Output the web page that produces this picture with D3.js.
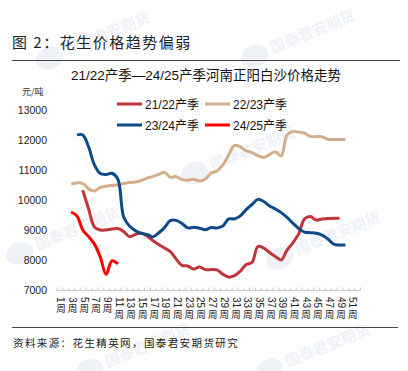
<!DOCTYPE html>
<html lang="zh">
<head>
<meta charset="UTF-8">
<script src="https://cdn.jsdelivr.net/npm/d3@7"></script>
<title>花生价格趋势</title>
<style>
  body { margin: 0; background: #fff; }
  text { font-family: "Liberation Sans", Arial, "Noto Sans CJK SC", sans-serif; }
  .cjk { font-family: "Noto Sans CJK SC", sans-serif; }
</style>
</head>
<body>
<div id="chart"></div>
<script>
// 周（横轴类别）
const weeks = d3.range(1, 53);
const weekLabels = weeks.filter(w => w % 2 == 1).map(w => w + "周");
const yTicks = [7000, 8000, 9000, 10000, 11000, 12000, 13000];

// 各产季数据，从起始周开始
const s2122Start = 5;
const s2122 = [10330, 9700, 9100, 9000, 9000, 9030, 9050, 8950, 8780, 8850, 8900, 8800, 8650, 8520,
  8400, 8280, 8030, 7820, 7800, 7700, 7770, 7680, 7680, 7670, 7530, 7430, 7480, 7630, 7850, 7920,
  8450, 8400, 8250, 8120, 8000, 8330, 8570, 8870, 9370, 9450, 9330, 9370, 9380, 9390, 9390];
const s2223Start = 3;
const s2223 = [10530, 10570, 10550, 10370, 10300, 10420, 10460, 10480, 10510, 10550, 10580, 10600,
  10650, 10730, 10780, 10850, 10920, 10760, 10780, 10680, 10660, 10690, 10630, 10700, 10900, 10970,
  11170, 11500, 11820, 11770, 11640, 11580, 11480, 11420, 11520, 11610, 11470, 12170, 12280, 12260,
  12230, 12120, 12110, 12110, 12020, 12020, 12020, 12020];
const s2324Start = 4;
const s2324 = [12170, 12170, 11770, 11170, 10880, 10850, 10890, 10700, 9440, 9130, 8980, 8890, 8850,
  8770, 8900, 9080, 9310, 9320, 9220, 9070, 9090, 9060, 9010, 9080, 9070, 9130, 9370, 9370, 9470,
  9680, 9850, 10020, 9950, 9800, 9700, 9580, 9420, 9230, 9050, 8930, 8910, 8890, 8830, 8700, 8530,
  8500, 8500];
const s2425Start = 3;
const s2425 = [9600, 9470, 9000, 8780, 8530, 8100, 7520, 7970, 7870];

const seriesNames = ["21/22产季", "22/23产季", "23/24产季", "24/25产季"];
const seriesColors = ["#c0353a", "#d4ae8a", "#0c4a89", "#ff0000"];

var width = 408, height = 371;
const svg = d3.select("#chart").append("svg")
  .attr("width", width)
  .attr("height", height);

// 水印（很淡）
var marks = [[70, 50], [275, 48], [215, 165], [40, 245], [300, 250], [290, 362], [110, 362]];
var wm = svg.append("g");
marks.forEach(p => {
  var g = wm.append("g").attr("transform", "translate(" + p[0] + "," + p[1] + ") rotate(-22)");
  g.append("ellipse").attr("cx", -22).attr("cy", 0).attr("rx", 14).attr("ry", 11).attr("fill", "#eef2f7");
  g.append("text").attr("class", "cjk").attr("x", -4).attr("y", 4)
    .style("font-size", "15px").style("font-weight", "bold").attr("fill", "#eef2f7").text("国泰君安期货");
});

// 顶部标题
svg.append("text").attr("class", "cjk")
  .attr("x", 12).attr("y", 48)
  .style("font-size", "15px").style("letter-spacing", "1.5px")
  .attr("fill", "#222")
  .text("图 2：花生价格趋势偏弱");
svg.append("line").attr("x1", 12).attr("x2", 400).attr("y1", 60.5).attr("y2", 60.5)
  .attr("stroke", "#444").attr("stroke-width", 1);
svg.append("line").attr("x1", 12).attr("x2", 398).attr("y1", 327.5).attr("y2", 327.5)
  .attr("stroke", "#444").attr("stroke-width", 1);
svg.append("text").attr("class", "cjk")
  .attr("x", 13).attr("y", 347)
  .style("font-size", "10.5px").style("letter-spacing", "1.4px")
  .attr("fill", "#222")
  .text("资料来源：花生精英网，国泰君安期货研究");

// 图表标题
svg.append("text")
  .attr("x", 206).attr("y", 80)
  .attr("text-anchor", "middle")
  .style("font-size", "13.5px")
  .attr("fill", "#111")
  .text("21/22产季—24/25产季河南正阳白沙价格走势");

svg.append("text").attr("class", "cjk")
  .attr("x", 22).attr("y", 95)
  .style("font-size", "9px")
  .attr("fill", "#333")
  .text("元/吨");

// 比例尺
const x = d3.scaleBand().domain(weeks).range([56.5, 360]);
const y = d3.scaleLinear().domain([7000, 13000]).range([290, 110]);
const cx = w => x(w) + x.bandwidth() / 2;

// y 轴标签
svg.append("g").selectAll("text")
  .data(yTicks)
  .enter()
  .append("text")
  .attr("x", 47)
  .attr("y", d => y(d) + 4)
  .attr("text-anchor", "end")
  .style("font-size", "10.5px")
  .attr("fill", "#222")
  .text(d => d);

// x 轴
const xAxis = svg.append("g");
xAxis.append("line")
  .attr("x1", x.range()[0]).attr("x2", x.range()[1])
  .attr("y1", 290.5).attr("y2", 290.5)
  .attr("stroke", "#c8c8c8");
xAxis.selectAll(".tk")
  .data(weeks.concat([53]))
  .enter()
  .append("line")
  .attr("x1", d => (d <= 52 ? x(d) : x.range()[1]) + 0.5)
  .attr("x2", d => (d <= 52 ? x(d) : x.range()[1]) + 0.5)
  .attr("y1", 290.5).attr("y2", 287.5)
  .attr("stroke", "#c8c8c8");

// 竖排标签：数字旋转，"周"字正立
const lbl = xAxis.selectAll(".lbl")
  .data(weekLabels)
  .enter()
  .append("g")
  .attr("transform", d => "translate(" + (cx(parseInt(d)) + 1.5) + ",297)");
lbl.append("text")
  .attr("transform", "rotate(90)")
  .attr("x", 0).attr("y", 3.5)
  .style("font-size", "10px")
  .attr("fill", "#222")
  .text(d => d.replace("周", ""));
lbl.append("text").attr("class", "cjk")
  .attr("x", 0)
  .attr("y", d => (d.length - 1) * 5.6 + 9.5)
  .attr("text-anchor", "middle")
  .style("font-size", "9.5px")
  .attr("fill", "#222")
  .text("周");

// 折线
const line = d3.line()
  .x(d => cx(d.w))
  .y(d => y(d.v))
  .curve(d3.curveCatmullRom.alpha(0.5));

const allSeries = [[s2122Start, s2122], [s2223Start, s2223], [s2324Start, s2324], [s2425Start, s2425]];
const drawOrder = [1, 0, 2, 3];
drawOrder.forEach(i => {
  var pts = allSeries[i][1].map((v, k) => ({ w: allSeries[i][0] + k, v: v }));
  svg.append("path")
    .datum(pts)
    .attr("d", line)
    .attr("fill", "none")
    .attr("stroke", seriesColors[i])
    .attr("stroke-width", 3)
    .attr("stroke-linejoin", "round");
});

// 图例
var legendPos = [[117, 104], [205, 104], [117, 125], [205, 125]];
seriesNames.forEach((name, i) => {
  var p = legendPos[i];
  svg.append("line")
    .attr("x1", p[0]).attr("x2", p[0] + 25)
    .attr("y1", p[1]).attr("y2", p[1])
    .attr("stroke", seriesColors[i]).attr("stroke-width", 3);
  svg.append("text")
    .attr("x", p[0] + 28).attr("y", p[1] + 4.5)
    .style("font-size", "12px")
    .attr("fill", "#111")
    .text(name);
});
</script>
</body>
</html>
